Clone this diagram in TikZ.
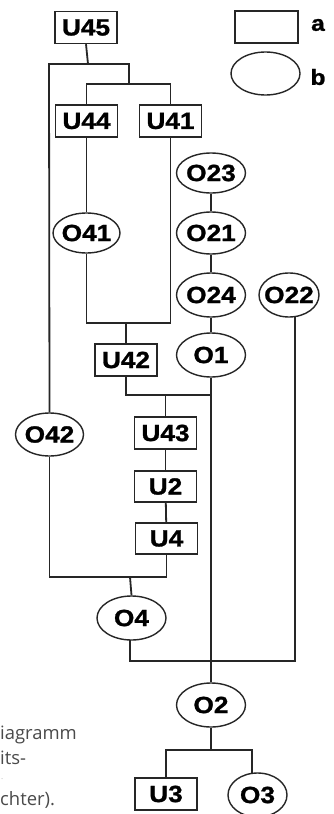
\documentclass[tikz,border=0pt]{standalone}
\usepackage{fontspec}
\usetikzlibrary{shapes.geometric}
\newfontfamily\labfont[FakeStretch=1.12,FakeBold=1.2]{Liberation Sans}
\newfontfamily\capfont{Open Sans}
\definecolor{capgray}{HTML}{4A4A4A}
\tikzset{
  lnk/.style={line width=1.8bp, draw=black!85},
  ubox/.style={draw=black!85, line width=1.4bp, rectangle, minimum width=62bp, minimum height=32bp, inner sep=0pt,
     font=\labfont\bfseries\fontsize{23.5}{23.5}\selectfont},
  oell/.style={draw=black!85, line width=1.4bp, ellipse, minimum width=69bp, minimum height=44bp, inner sep=0pt,
     font=\labfont\bfseries\fontsize{23.5}{23.5}\selectfont},
  legtxt/.style={font=\labfont\bfseries\fontsize{22}{22}\selectfont, inner sep=0pt},
  captxt/.style={font=\capfont\fontsize{18.5}{18.5}\selectfont, text=capgray, anchor=west, inner sep=0pt}
}
\newcommand{\zw}[1]{\makebox[0pt]{#1}}
\begin{document}
\begin{tikzpicture}[x=1bp,y=-1bp]
\useasboundingbox (0,0) rectangle (333,814);
\fill[white] (0,0) rectangle (333,814);
% legend
\node[ubox, minimum width=63bp] (lega) at (266.5,27) {};
\node[legtxt] (la) at (318,25) {a};
\node[oell, minimum width=69bp, minimum height=43bp] (legb) at (265.5,73.5) {};
\node[legtxt] (lb) at (318,77) {b};
% nodes
\node[ubox] (U45) at (86,27.5) {U45};
\node[ubox] (U44) at (86.5,121) {U44};
\node[ubox] (U41) at (170.5,121) {U41};
\node[oell, minimum height=40bp] (O23) at (211,173) {\zw{O23}};
\node[oell, minimum width=67bp, minimum height=40bp] (O41) at (86.5,233) {\zw{O41}};
\node[oell, minimum height=42bp] (O21) at (211,233) {\zw{O21}};
\node[oell] (O24) at (211,295) {\zw{O24}};
\node[oell, minimum width=60bp] (O22) at (289,295) {\zw{O22}};
\node[ubox] (U42) at (126,360) {U42};
\node[oell] (O1) at (211,355) {\zw{O1}};
\node[oell, minimum width=68bp, minimum height=43bp] (O42) at (49.5,434.5) {\zw{O42}};
\node[ubox] (U43) at (165.5,433) {U43};
\node[ubox, minimum height=31bp] (U2) at (165.5,486.5) {U2};
\node[ubox, minimum height=31bp] (U4) at (166.5,538.5) {U4};
\node[oell] (O4) at (131.5,618) {\zw{O4}};
\node[oell] (O2) at (211,705) {\zw{O2}};
\node[ubox] (U3) at (166,794) {U3};
\node[oell, minimum width=59bp] (O3) at (257.5,795) {\zw{O3}};
% junction coordinates
\coordinate (j1) at (88,64);
\coordinate (j1l) at (49,64);
\coordinate (j1r) at (129,64);
\coordinate (j2) at (129,84);
\coordinate (j2l) at (86.5,84);
\coordinate (j2r) at (170.5,84);
\coordinate (j3l) at (86.5,323);
\coordinate (j3r) at (170.5,323);
\coordinate (j3m) at (126,323);
\coordinate (j4l) at (126,395);
\coordinate (j4r) at (211,395);
\coordinate (j4m) at (165.5,395);
\coordinate (j5l) at (49.5,577);
\coordinate (j5r) at (166.5,577);
\coordinate (j5m) at (130,577);
\coordinate (j6l) at (130,661);
\coordinate (j6r) at (295,661);
\coordinate (o22b) at (295,316.5);
\coordinate (o4b) at (130,639.8);
\coordinate (j7) at (211,750);
\coordinate (j7l) at (166,750);
\coordinate (j7r) at (252,750);
\coordinate (o3t) at (252,773.3);
% connectors
\draw[lnk] (U45.south) -- (j1);
\draw[lnk] (O42.north) -- (j1l) -- (j1r) -- (j2);
\draw[lnk] (U44.north) -- (j2l) -- (j2r) -- (U41.north);
\draw[lnk] (U44.south) -- (O41.north);
\draw[lnk] (O41.south) -- (j3l) -- (j3r) -- (U41.south);
\draw[lnk] (j3m) -- (U42.north);
\draw[lnk] (O23) -- (O21);
\draw[lnk] (O21) -- (O24);
\draw[lnk] (O24) -- (O1);
\draw[lnk] (O1.south) -- (O2.north);
\draw[lnk] (U42.south) -- (j4l) -- (j4r);
\draw[lnk] (j4m) -- (U43.north);
\draw[lnk] (U43) -- (U2);
\draw[lnk] (U2) -- (U4);
\draw[lnk] (O42.south) -- (j5l) -- (j5r) -- (U4.south);
\draw[lnk] (j5m) -- (O4.north);
\draw[lnk] (o4b) -- (j6l) -- (j6r) -- (o22b);
\draw[lnk] (O2.south) -- (j7);
\draw[lnk] (U3.north) -- (j7l) -- (j7r) -- (o3t);
% cropped caption fragments
\node[captxt] (c1) at (0,735) {iagramm};
\node[captxt] (c2) at (0,758) {its-};
\node[captxt, text=capgray!40, font=\capfont\fontsize{8}{8}\selectfont] (c3) at (1,779) {.};
\node[captxt] (c4) at (0,800) {chter).};
\end{tikzpicture}
\end{document}
